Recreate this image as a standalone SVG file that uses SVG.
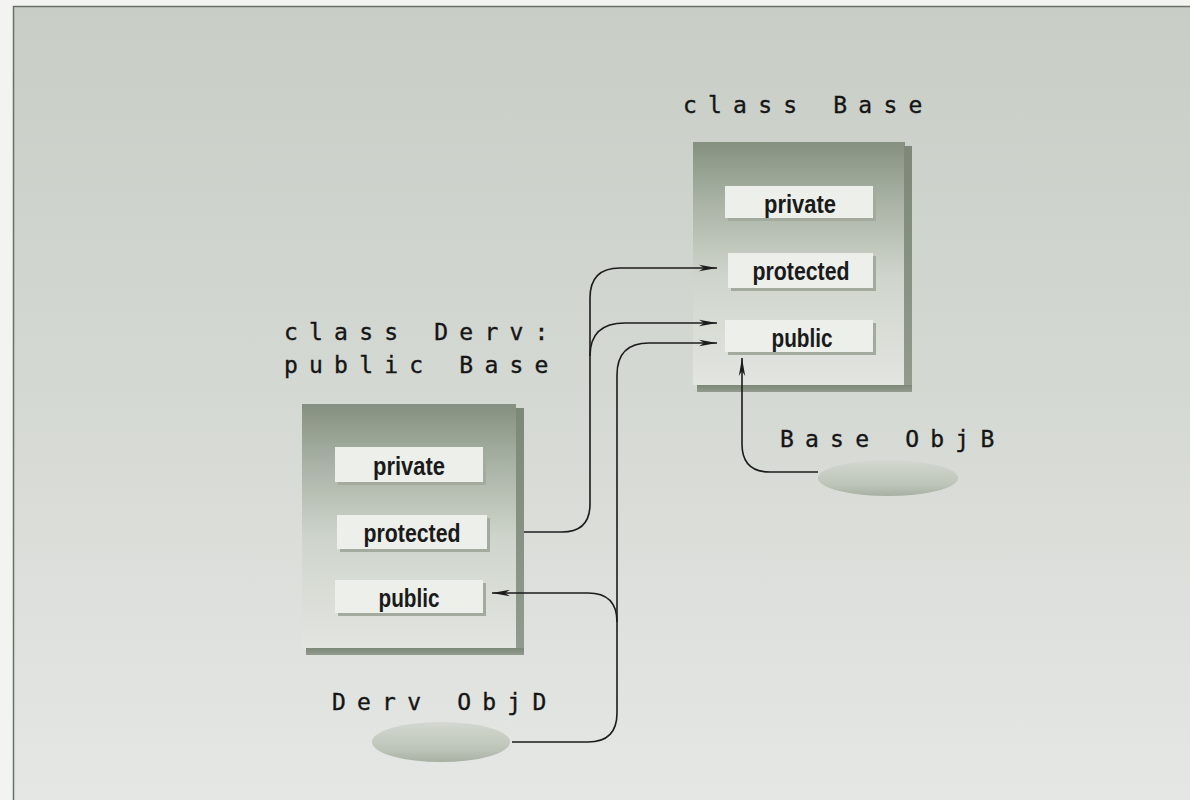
<svg xmlns="http://www.w3.org/2000/svg" width="1190" height="800" viewBox="0 0 1190 800">
  <defs>
    <linearGradient id="bg" x1="0" y1="0" x2="0" y2="1">
      <stop offset="0" stop-color="#c8cdc6"/>
      <stop offset="0.5" stop-color="#d5d9d3"/>
      <stop offset="1" stop-color="#e5e7e4"/>
    </linearGradient>
    <linearGradient id="boxg" x1="0" y1="0" x2="0" y2="1">
      <stop offset="0" stop-color="#84907f"/>
      <stop offset="0.2" stop-color="#a3ad9f"/>
      <stop offset="0.55" stop-color="#cfd5cc"/>
      <stop offset="1" stop-color="#e2e5e0"/>
    </linearGradient>
    <linearGradient id="edgeg" x1="0" y1="0" x2="0" y2="1">
      <stop offset="0" stop-color="#7c8878"/>
      <stop offset="1" stop-color="#929b8e"/>
    </linearGradient>
    <linearGradient id="ellg" x1="0" y1="0" x2="0" y2="1">
      <stop offset="0" stop-color="#d3d8d0"/>
      <stop offset="0.7" stop-color="#bcc4b8"/>
      <stop offset="1" stop-color="#a7b0a3"/>
    </linearGradient>
    <marker id="arr" viewBox="0 0 18 8" refX="18" refY="4" markerWidth="18" markerHeight="8" markerUnits="userSpaceOnUse" orient="auto">
      <path d="M0,0.8 L18,4 L0,7.2 L5,4 Z" fill="#1c1c1c"/>
    </marker>
  </defs>
  <style>
    .lbl { font-family: "DejaVu Sans Mono", "Liberation Mono", monospace; font-size: 23px; letter-spacing: 11.2px; fill: #151515; stroke: #151515; stroke-width: 0.35px; }
    .mem { font-family: "Liberation Sans", Arial, sans-serif; font-size: 25px; font-weight: bold; fill: #1a1a1a; text-anchor: middle; }
    .slot { fill: #edefea; }
    .slotsh { fill: #a2ab9e; }
    .edge { fill: url(#edgeg); }
    .conn { fill: none; stroke: #1c1c1c; stroke-width: 1.6; }
  </style>

  <rect x="0" y="0" width="1190" height="800" fill="#f3f4f2"/>
  <rect x="13" y="6" width="1177" height="794" fill="url(#bg)"/>
  <path d="M13.5,800 V6.5 H1190" fill="none" stroke="#6b7069" stroke-width="1.5"/>

  <g id="base">
    <text class="lbl" x="683" y="113">class Base</text>
    <rect x="693" y="142" width="212" height="243" fill="url(#boxg)"/>
    <rect class="edge" x="904" y="146" width="8" height="246"/>
    <rect class="edge" x="697" y="385" width="215" height="7"/>
    <rect class="slotsh" x="728" y="189" width="148" height="32"/>
    <rect class="slot" x="725" y="186" width="148" height="32"/>
    <text class="mem" x="800" y="213" textLength="72" lengthAdjust="spacingAndGlyphs">private</text>
    <rect class="slotsh" x="731" y="256" width="145" height="35"/>
    <rect class="slot" x="728" y="253" width="145" height="35"/>
    <text class="mem" x="801" y="280" textLength="97" lengthAdjust="spacingAndGlyphs">protected</text>
    <rect class="slotsh" x="728" y="323" width="148" height="32"/>
    <rect class="slot" x="725" y="320" width="148" height="32"/>
    <text class="mem" x="802" y="347" textLength="61" lengthAdjust="spacingAndGlyphs">public</text>
  </g>

  <g id="derv">
    <text class="lbl" x="284" y="340">class Derv:</text>
    <text class="lbl" x="284" y="373">public Base</text>
    <rect x="302" y="404" width="214" height="245" fill="url(#boxg)"/>
    <rect class="edge" x="516" y="408" width="8" height="247"/>
    <rect class="edge" x="306" y="648" width="218" height="7"/>
    <rect class="slotsh" x="338" y="450" width="148" height="35"/>
    <rect class="slot" x="335" y="447" width="148" height="35"/>
    <text class="mem" x="409" y="475" textLength="72" lengthAdjust="spacingAndGlyphs">private</text>
    <rect class="slotsh" x="340" y="518" width="150" height="34"/>
    <rect class="slot" x="337" y="515" width="150" height="34"/>
    <text class="mem" x="412" y="542" textLength="97" lengthAdjust="spacingAndGlyphs">protected</text>
    <rect class="slotsh" x="338" y="583" width="148" height="33"/>
    <rect class="slot" x="335" y="580" width="148" height="33"/>
    <text class="mem" x="409" y="607" textLength="61" lengthAdjust="spacingAndGlyphs">public</text>
  </g>

  <g id="objB">
    <text class="lbl" x="780" y="447">Base ObjB</text>
    <ellipse cx="888" cy="478" rx="70" ry="18" fill="url(#ellg)"/>
  </g>

  <g id="objD">
    <text class="lbl" x="332" y="710">Derv ObjD</text>
    <ellipse cx="441" cy="742" rx="69" ry="20" fill="url(#ellg)"/>
  </g>

  <g id="connectors">
    <path class="conn" d="M524,532 H562 Q590,532 590,504 V298 Q590,268 620,268 H717" marker-end="url(#arr)"/>
    <path class="conn" d="M590,356 C590,335 600,323 625,323 H717" marker-end="url(#arr)"/>
    <path class="conn" d="M512,742 H588 Q617,742 617,713 V375 Q617,343 649,343 H717" marker-end="url(#arr)"/>
    <path class="conn" d="M617,622 Q617,593 588,593 H492" marker-end="url(#arr)"/>
    <path class="conn" d="M818,472 H770 Q742,472 742,444 V358" marker-end="url(#arr)"/>
  </g>
</svg>
